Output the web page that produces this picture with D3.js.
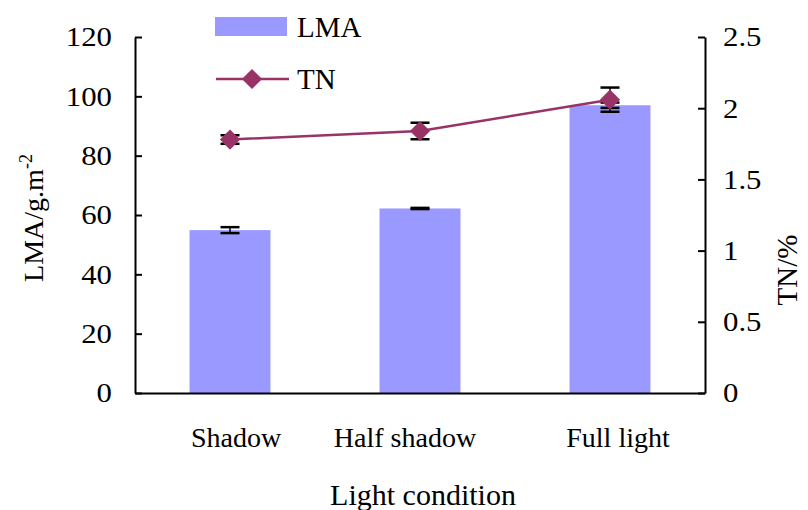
<!DOCTYPE html>
<html>
<head>
<meta charset="utf-8">
<script src="https://cdn.jsdelivr.net/npm/d3@7"></script>
<style>
  body { margin: 0; background: #fff; }
  svg, svg text { font-family: "Liberation Serif", "Times New Roman", serif; fill: #000; }
</style>
</head>
<body>
<script>
// data
var conditions = ["Shadow", "Half shadow", "Full light"];
var lma = [54.9, 62.2, 97.0];
var lmaErr = [1.0, 0.2, 0.9];
var tn = [1.78, 1.84, 2.06];
var tnErr = [0.03, 0.058, 0.085];
var lmaTicks = [0, 20, 40, 60, 80, 100, 120];
var tnTicks = [0, 0.5, 1, 1.5, 2, 2.5];

var W = 808, H = 510;
var margin = {top: 37, right: 103, bottom: 117, left: 135},
    width = W - margin.left - margin.right,
    height = H - margin.top - margin.bottom;

var serif = "Liberation Serif, Times New Roman, serif";
var sx = 1.1; // tick labels in the picture are a bit wide

var svg = d3.select("body").append("svg")
    .attr("width", W)
    .attr("height", H)
    .attr("font-family", serif);

var g = svg.append("g")
    .attr("transform", "translate(" + margin.left + "," + margin.top + ")");

// scales
var x = d3.scaleBand().domain(conditions).range([0, width]).paddingInner(0.574).paddingOuter(0.287);
var yL = d3.scaleLinear().domain([0, 120]).range([height, 0]);
var yR = d3.scaleLinear().domain([0, 2.5]).range([height, 0]);

var barColor = "#9999ff", lineColor = "#993366";

// bars
g.selectAll(".bar")
  .data(conditions)
  .enter().append("rect")
    .attr("x", function(d) { return x(d); })
    .attr("y", function(d, i) { return yL(lma[i]); })
    .attr("width", x.bandwidth())
    .attr("height", function(d, i) { return height - yL(lma[i]); })
    .attr("fill", barColor);

// error bars
function errorBars(vals, errs, scale) {
  var cap = 9.5;
  conditions.forEach(function(c, i) {
    var cx = x(c) + x.bandwidth() / 2;
    var lo = scale(vals[i] - errs[i]), hi = scale(vals[i] + errs[i]);
    g.append("line").attr("x1", cx).attr("x2", cx).attr("y1", lo).attr("y2", hi)
      .attr("stroke", "#000").attr("stroke-width", 1.5);
    [lo, hi].forEach(function(yy) {
      g.append("line").attr("x1", cx - cap).attr("x2", cx + cap).attr("y1", yy).attr("y2", yy)
        .attr("stroke", "#000").attr("stroke-width", 2.5);
    });
  });
}
errorBars(lma, lmaErr, yL);
errorBars(tn, tnErr, yR);

// TN line
var line = d3.line()
    .x(function(d, i) { return x(conditions[i]) + x.bandwidth() / 2; })
    .y(function(d) { return yR(d); });
g.append("path")
    .datum(tn)
    .attr("d", line)
    .attr("fill", "none")
    .attr("stroke", lineColor)
    .attr("stroke-width", 2.5);

var diamond = d3.symbol().type(d3.symbolDiamond2).size(260);
g.selectAll(".pt")
  .data(tn)
  .enter().append("path")
    .attr("d", diamond)
    .attr("transform", function(d, i) {
      return "translate(" + (x(conditions[i]) + x.bandwidth() / 2) + "," + yR(d) + ")";
    })
    .attr("fill", lineColor);

// axes
var axL = g.append("g")
    .call(d3.axisLeft(yL).tickValues(lmaTicks).tickSize(-7).tickSizeOuter(0).tickPadding(23));
var axR = g.append("g")
    .attr("transform", "translate(" + width + ",0)")
    .call(d3.axisRight(yR).tickValues(tnTicks).tickFormat(d3.format("")).tickSize(-7).tickSizeOuter(0).tickPadding(18));
var axB = g.append("g")
    .attr("transform", "translate(0," + height + ")")
    .call(d3.axisBottom(x).tickSize(0).tickPadding(34));

[axL, axR, axB].forEach(function(a) {
  a.attr("font-family", serif);
  a.selectAll("path, line").attr("stroke", "#000").attr("stroke-width", 2);
  a.selectAll("text").attr("fill", "#000");
});
[axL, axR].forEach(function(a) {
  a.attr("font-size", 28);
  a.selectAll("text")
    .attr("x", function() { return +this.getAttribute("x") / sx; })
    .attr("transform", "scale(" + sx + ",1)");
});
// category labels sit a little off the bar centres in the picture
var labelShift = [6, -15, 8];
axB.attr("font-size", 28);
axB.selectAll("text").attr("dx", function(d, i) { return labelShift[i]; });

// axis titles
svg.append("text")
    .attr("transform", "translate(43,218) rotate(-90)")
    .attr("text-anchor", "middle")
    .attr("font-size", 28)
    .html('LMA/g.m<tspan dy="-11" font-size="18">-2</tspan>');

svg.append("text")
    .attr("transform", "translate(797,270) rotate(-90)")
    .attr("text-anchor", "middle")
    .attr("font-size", 29)
    .text("TN/%");

svg.append("text")
    .attr("x", 423)
    .attr("y", 505)
    .attr("text-anchor", "middle")
    .attr("font-size", 30)
    .text("Light condition");

// legend
var leg = svg.append("g");
leg.append("rect").attr("x", 215).attr("y", 17).attr("width", 72).attr("height", 19).attr("fill", barColor);
leg.append("text").attr("x", 297).attr("y", 37).attr("font-size", 29).text("LMA");
leg.append("line").attr("x1", 216).attr("x2", 289).attr("y1", 79).attr("y2", 79)
    .attr("stroke", lineColor).attr("stroke-width", 2.5);
leg.append("path").attr("d", diamond).attr("transform", "translate(252,79)").attr("fill", lineColor);
leg.append("text").attr("x", 297).attr("y", 89).attr("font-size", 29).text("TN");
</script>
</body>
</html>
